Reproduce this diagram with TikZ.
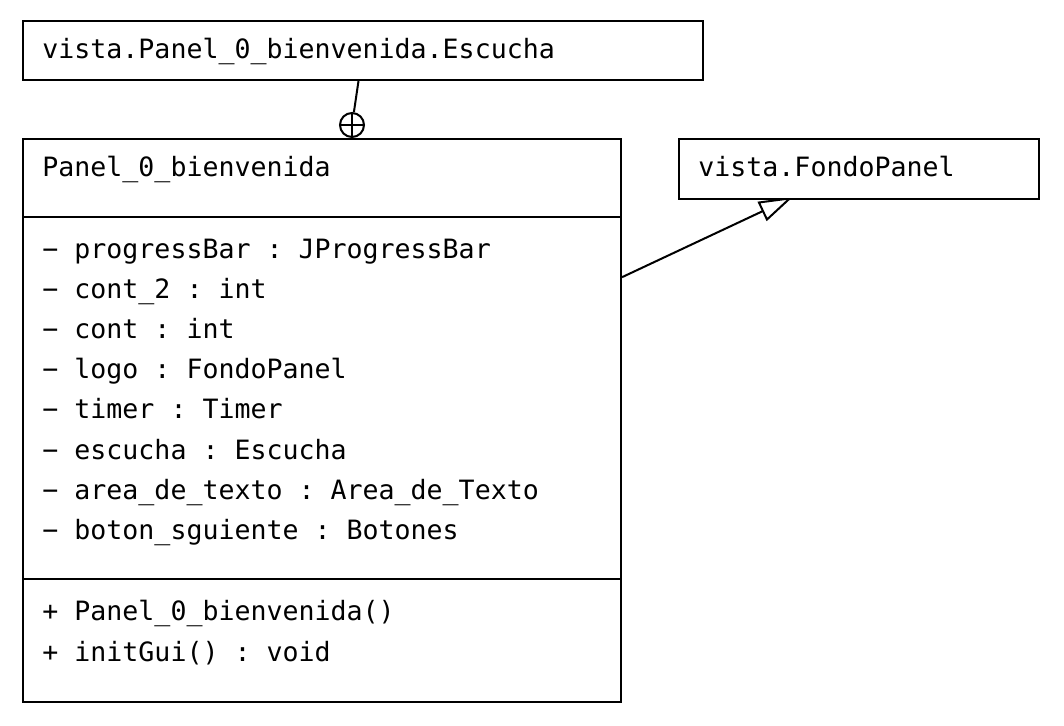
\documentclass[tikz,border=0pt]{standalone}
\usepackage{fontspec}
\setmonofont{DejaVu Sans Mono}
\usetikzlibrary{arrows.meta, backgrounds}

\begin{document}
\begin{tikzpicture}[x=0.5pt, y=-0.5pt,
        box/.style = {draw, line width=1pt, fill=white, rectangle, anchor=north west, inner sep=0pt},
        txt/.style = {anchor=base west, inner sep=0pt, font=\ttfamily\fontsize{13.3}{16}\selectfont},
        inherit/.style = {line width=1pt, -{Triangle[open, length=17pt, width=10.5pt]}}]
    \useasboundingbox (0, 0) rectangle (1064, 726);
    \node [box, minimum width=340pt, minimum height=29.5pt] (escucha) at (22, 20) {};
    \node [box, minimum width=299pt, minimum height=281.5pt] (panel) at (22, 138) {};
    \node [box, minimum width=180pt, minimum height=30pt] (fondo) at (678, 138) {};
    \draw [line width=1pt] (panel.west |- 0, 217) -- (panel.east |- 0, 217);
    \draw [line width=1pt] (panel.west |- 0, 579) -- (panel.east |- 0, 579);
    \node [txt] (escuchaname) at (42, 59) {vista.Panel\_0\_bienvenida.Escucha};
    \node [txt] (panelname) at (42, 177) {Panel\_0\_bienvenida};
    \node [txt] (fondoname) at (698, 177) {vista.FondoPanel};
    \foreach \attr [count=\i] in {{progressBar : JProgressBar}, {cont\_2 : int},
            {cont : int}, {logo : FondoPanel}, {timer : Timer}, {escucha : Escucha},
            {area\_de\_texto : Area\_de\_Texto}, {boton\_sguiente : Botones}}
        \node [txt] (attr\i) at (42, 219 + 40*\i) {− \attr};
    \node [txt] (method1) at (42, 620) {+ Panel\_0\_bienvenida()};
    \node [txt] (method2) at (42, 661) {+ initGui() : void};
    % inner class marker
    \node [draw, circle, line width=1pt, minimum size=12pt, inner sep=0pt, fill=white] (nest) at (352, 125) {};
    \draw [line width=1pt] (nest.north) -- (nest.south);
    \draw [line width=1pt] (nest.west) -- (nest.east);
    \draw [line width=1pt] (escucha) -- (nest);
    % generalization, tip partly under the box
    \begin{scope}[on background layer]
        \draw [inherit, transform canvas={yshift=1.5pt}] (panel) -- (fondo);
    \end{scope}
\end{tikzpicture}
\end{document}
